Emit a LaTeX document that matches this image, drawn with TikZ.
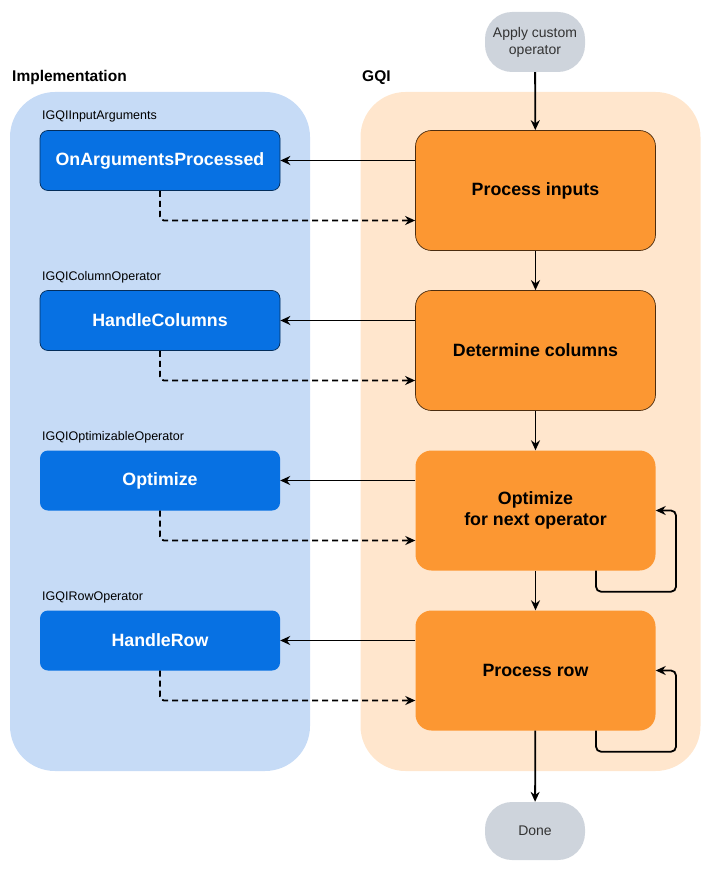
\documentclass[tikz,border=0pt]{standalone}
\usepackage{fontspec}
\setmainfont{Liberation Sans}
\usetikzlibrary{calc,arrows.meta}
\definecolor{implbg}{RGB}{198,219,246}
\definecolor{gqibg}{RGB}{255,230,205}
\definecolor{orangebox}{RGB}{252,151,50}
\definecolor{bluebox}{RGB}{7,113,227}
\definecolor{greybox}{RGB}{206,212,220}
\definecolor{greytext}{RGB}{51,51,51}
\begin{document}
\begin{tikzpicture}[x=1pt,y=-1pt,
  panel/.style={draw=none,rounded corners=45pt,minimum width=300pt,minimum height=679pt,inner sep=0pt},
  title/.style={font=\bfseries\fontsize{15.5}{18}\selectfont,anchor=base west,inner sep=0pt},
  ibox/.style={rounded corners=8pt,fill=bluebox,minimum width=240pt,minimum height=60pt,inner sep=0pt,text=white,font=\bfseries\fontsize{17.8}{20}\selectfont},
  gbox/.style={rounded corners=16pt,fill=orangebox,minimum width=240pt,minimum height=120pt,inner sep=0pt,align=center,font=\bfseries\fontsize{17.8}{21}\selectfont},
  bordered/.style={draw=black!70!orangebox,line width=0.7pt},
  bbordered/.style={draw=black!60!bluebox,line width=0.7pt},
  term/.style={rounded corners=27pt,fill=greybox,minimum width=100pt,minimum height=60pt,inner sep=0pt,align=center,text=greytext,font=\fontsize{14}{17}\selectfont},
  sublabel/.style={font=\fontsize{12.5}{14}\selectfont,anchor=base west,inner sep=0pt},
  flow/.style={-{Stealth[length=10pt,width=9pt]},line width=1.8pt},
  dflow/.style={flow,dash pattern=on 6pt off 4pt,rounded corners=4pt}
]
\useasboundingbox (0,0) rectangle (711,872);
% panels
\node[panel,fill=implbg] (pimpl) at (160,431.5) {};
\node[panel,fill=gqibg,minimum width=340pt] (pgqi) at (530.5,431.5) {};
\node[title] (timpl) at (12,81.5) {Implementation};
\node[title] (tgqi) at (362,81.5) {GQI};
% terminals
\node[term] (start) at (535,42) {Apply custom\\operator};
\node[term,minimum height=58pt] (done) at (535,831) {Done};
% GQI boxes
\node[gbox,bordered] (o1) at (535.5,190.5) {Process inputs};
\node[gbox,bordered] (o2) at (535.5,350.5) {Determine columns};
\node[gbox] (o3) at (535.5,510.5) {Optimize\\for next operator};
\node[gbox] (o4) at (535.5,670.5) {Process row};
% implementation boxes
\node[ibox,bbordered] (b1) at (160,160.5) {OnArgumentsProcessed};
\node[ibox,bbordered] (b2) at (160,320.5) {HandleColumns};
\node[ibox] (b3) at (160,480.5) {Optimize};
\node[ibox] (b4) at (160,640.5) {HandleRow};
% sub labels
\node[sublabel] (l1) at (42,120) {IGQIInputArguments};
\node[sublabel] (l2) at (42,280) {IGQIColumnOperator};
\node[sublabel] (l3) at (42,440) {IGQIOptimizableOperator};
\node[sublabel] (l4) at (42,600) {IGQIRowOperator};
% main flow
\draw[flow] (start) -- (o1);
\draw[flow] (o1) -- (o2);
\draw[flow] (o2) -- (o3);
\draw[flow] (o3) -- (o4);
\draw[flow] (o4) -- (done);
% calls
\foreach \i in {1,2,3,4}{
  \draw[flow] ($(o\i.west)+(0,-30)$) -- (b\i.east);
  \draw[dflow] (b\i.south) |- ($(o\i.west)+(0,30)$);
}
% loops
\draw[flow,rounded corners=5pt] ($(o3.south)+(60.5,0)$) -- ++(0,21) -- ++(80,0) |- (o3.east);
\draw[flow,rounded corners=5pt] ($(o4.south)+(60.5,0)$) -- ++(0,21) -- ++(80,0) |- (o4.east);
\end{tikzpicture}
\end{document}
